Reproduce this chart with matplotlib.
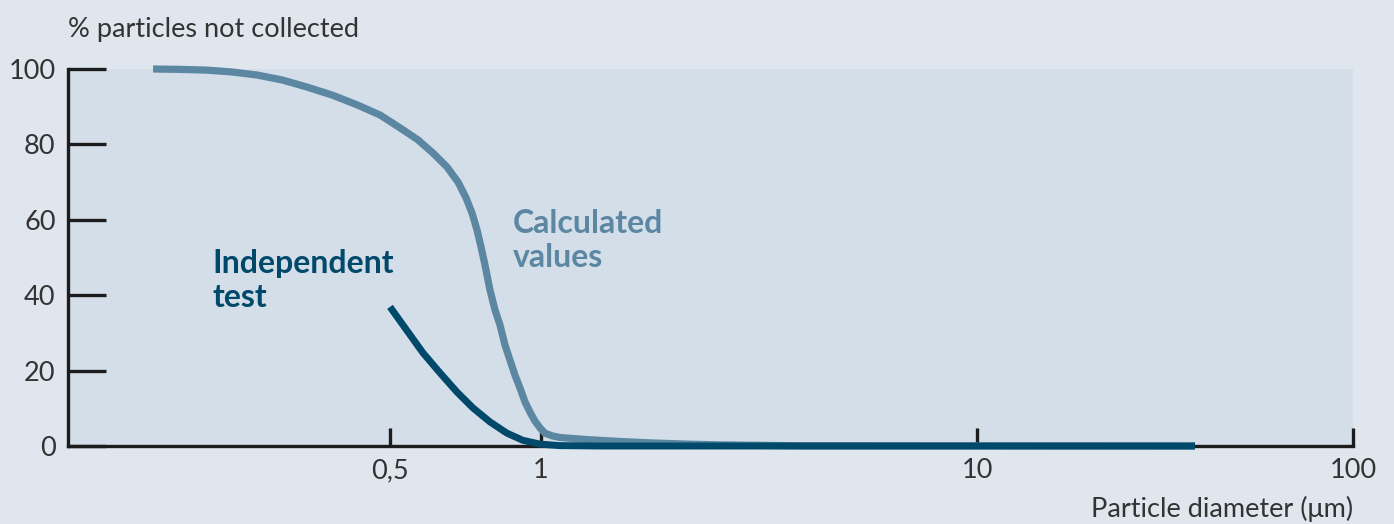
import numpy as np
import matplotlib
matplotlib.use("Agg")
import matplotlib.pyplot as plt

# ---- data ----
calc_x = [0.1685, 0.1908, 0.2159, 0.2422, 0.2716, 0.3046, 0.3417, 0.3832, 0.4297,
          0.4776, 0.5234, 0.5685, 0.6091, 0.6496, 0.6833, 0.7089, 0.7286, 0.7455,
          0.7593, 0.7733, 0.7911, 0.8096, 0.8284, 0.8476, 0.8672, 0.8874, 0.9080,
          0.9292, 0.9506, 0.9727, 0.9954, 1.0214, 1.0598, 1.1055, 1.275, 1.518,
          1.807, 2.162, 2.574, 3.928, 38.0]
calc_y = [100.0, 99.9, 99.7, 99.2, 98.4, 97.1, 95.2, 93.1, 90.5,
          87.8, 84.4, 81.2, 77.7, 74.0, 70.0, 65.8, 61.8, 57.3,
          52.8, 48.0, 41.4, 36.1, 32.1, 26.8, 22.8, 18.8, 15.4,
          11.7, 9.0, 6.6, 4.8, 3.4, 2.7, 2.25, 1.7, 1.2,
          0.8, 0.5, 0.3, 0.05, 0.0]

indep_x = [0.5, 0.5406, 0.5817, 0.6290, 0.6801, 0.7317, 0.7911, 0.8554, 0.9206,
           0.9954, 1.1055, 1.365, 38.0]
indep_y = [36.9, 30.6, 24.7, 19.4, 14.3, 10.1, 6.4, 3.4, 1.5,
           0.5, 0.1, 0.0, 0.0]

x_ticks = [0.5, 1, 10, 100]
x_tick_labels = ["0,5", "1", "10", "100"]
y_ticks = [0, 20, 40, 60, 80, 100]
y_tick_labels = ["0", "20", "40", "60", "80", "100"]

x_min, x_max = 0.114, 100

# piecewise log scale as drawn in the original figure
anchor_log = np.log10([x_min, 0.5, 1, 10, 100])
anchor_pos = np.array([0.0, 322.0, 473.0, 909.0, 1285.0])


def fwd(x):
    x = np.asarray(x, dtype=float)
    lx = np.log10(np.clip(x, 1e-6, None))
    return np.interp(lx, anchor_log, anchor_pos)


def inv(p):
    p = np.asarray(p, dtype=float)
    return 10 ** np.interp(p, anchor_pos, anchor_log)


BG = "#dfe6ee"
AX_BG = "#d3dee8"
LIGHT = "#5b87a3"
DARK = "#00496b"
INK = "#1c1c1c"
TXT = "#333333"
FONT = "Lato"
FS = 19.5

fig = plt.figure(figsize=(13.94, 5.24), dpi=100, facecolor=BG)
ax = fig.add_axes([68 / 1394, (524 - 446) / 524, (1353 - 68) / 1394, (446 - 69) / 524])
ax.set_facecolor(AX_BG)
ax.set_xscale("function", functions=(fwd, inv))
ax.set_xlim(x_min, x_max)
ax.set_ylim(0, 100)

ax.plot(calc_x, calc_y, color=LIGHT, lw=5.2, solid_capstyle="butt",
        solid_joinstyle="round", clip_on=False, zorder=3)
ax.plot(indep_x, indep_y, color=DARK, lw=5.0, solid_capstyle="butt",
        solid_joinstyle="round", clip_on=False, zorder=4)

for s in ["top", "right"]:
    ax.spines[s].set_visible(False)
for s in ["left", "bottom"]:
    ax.spines[s].set_color(INK)
    ax.spines[s].set_linewidth(2.4)

ax.set_xticks(x_ticks)
ax.set_xticklabels(x_tick_labels)
ax.xaxis.set_minor_locator(matplotlib.ticker.NullLocator())
ax.set_yticks(y_ticks)
ax.set_yticklabels(y_tick_labels)

ax.tick_params(axis="y", direction="in", length=27, width=2.4, color=INK,
               pad=9, labelsize=FS, labelcolor=TXT)
ax.tick_params(axis="x", direction="in", length=13, width=2.4, color=INK,
               pad=9, labelsize=FS, labelcolor=TXT)
for lab in ax.get_xticklabels() + ax.get_yticklabels():
    lab.set_fontfamily(FONT)
    lab.set_fontweight("normal")

fig.text(68 / 1394, 1 - 30 / 524, "% particles not collected", ha="left", va="center",
         fontsize=FS, color=TXT, family=FONT, fontweight="normal")
fig.text(1353 / 1394, 1 - 509 / 524, "Particle diameter (μm)", ha="right", va="center",
         fontsize=FS, color=TXT, family=FONT, fontweight="normal")

ax.text(0.221, 44, "Independent\ntest", ha="left", va="center", fontsize=23,
        color=DARK, family=FONT, fontweight="bold", linespacing=1.2)
ax.text(0.879, 54.5, "Calculated\nvalues", ha="left", va="center", fontsize=23,
        color=LIGHT, family=FONT, fontweight="bold", linespacing=1.2)

fig.savefig("out.png", dpi=100, facecolor=BG)
